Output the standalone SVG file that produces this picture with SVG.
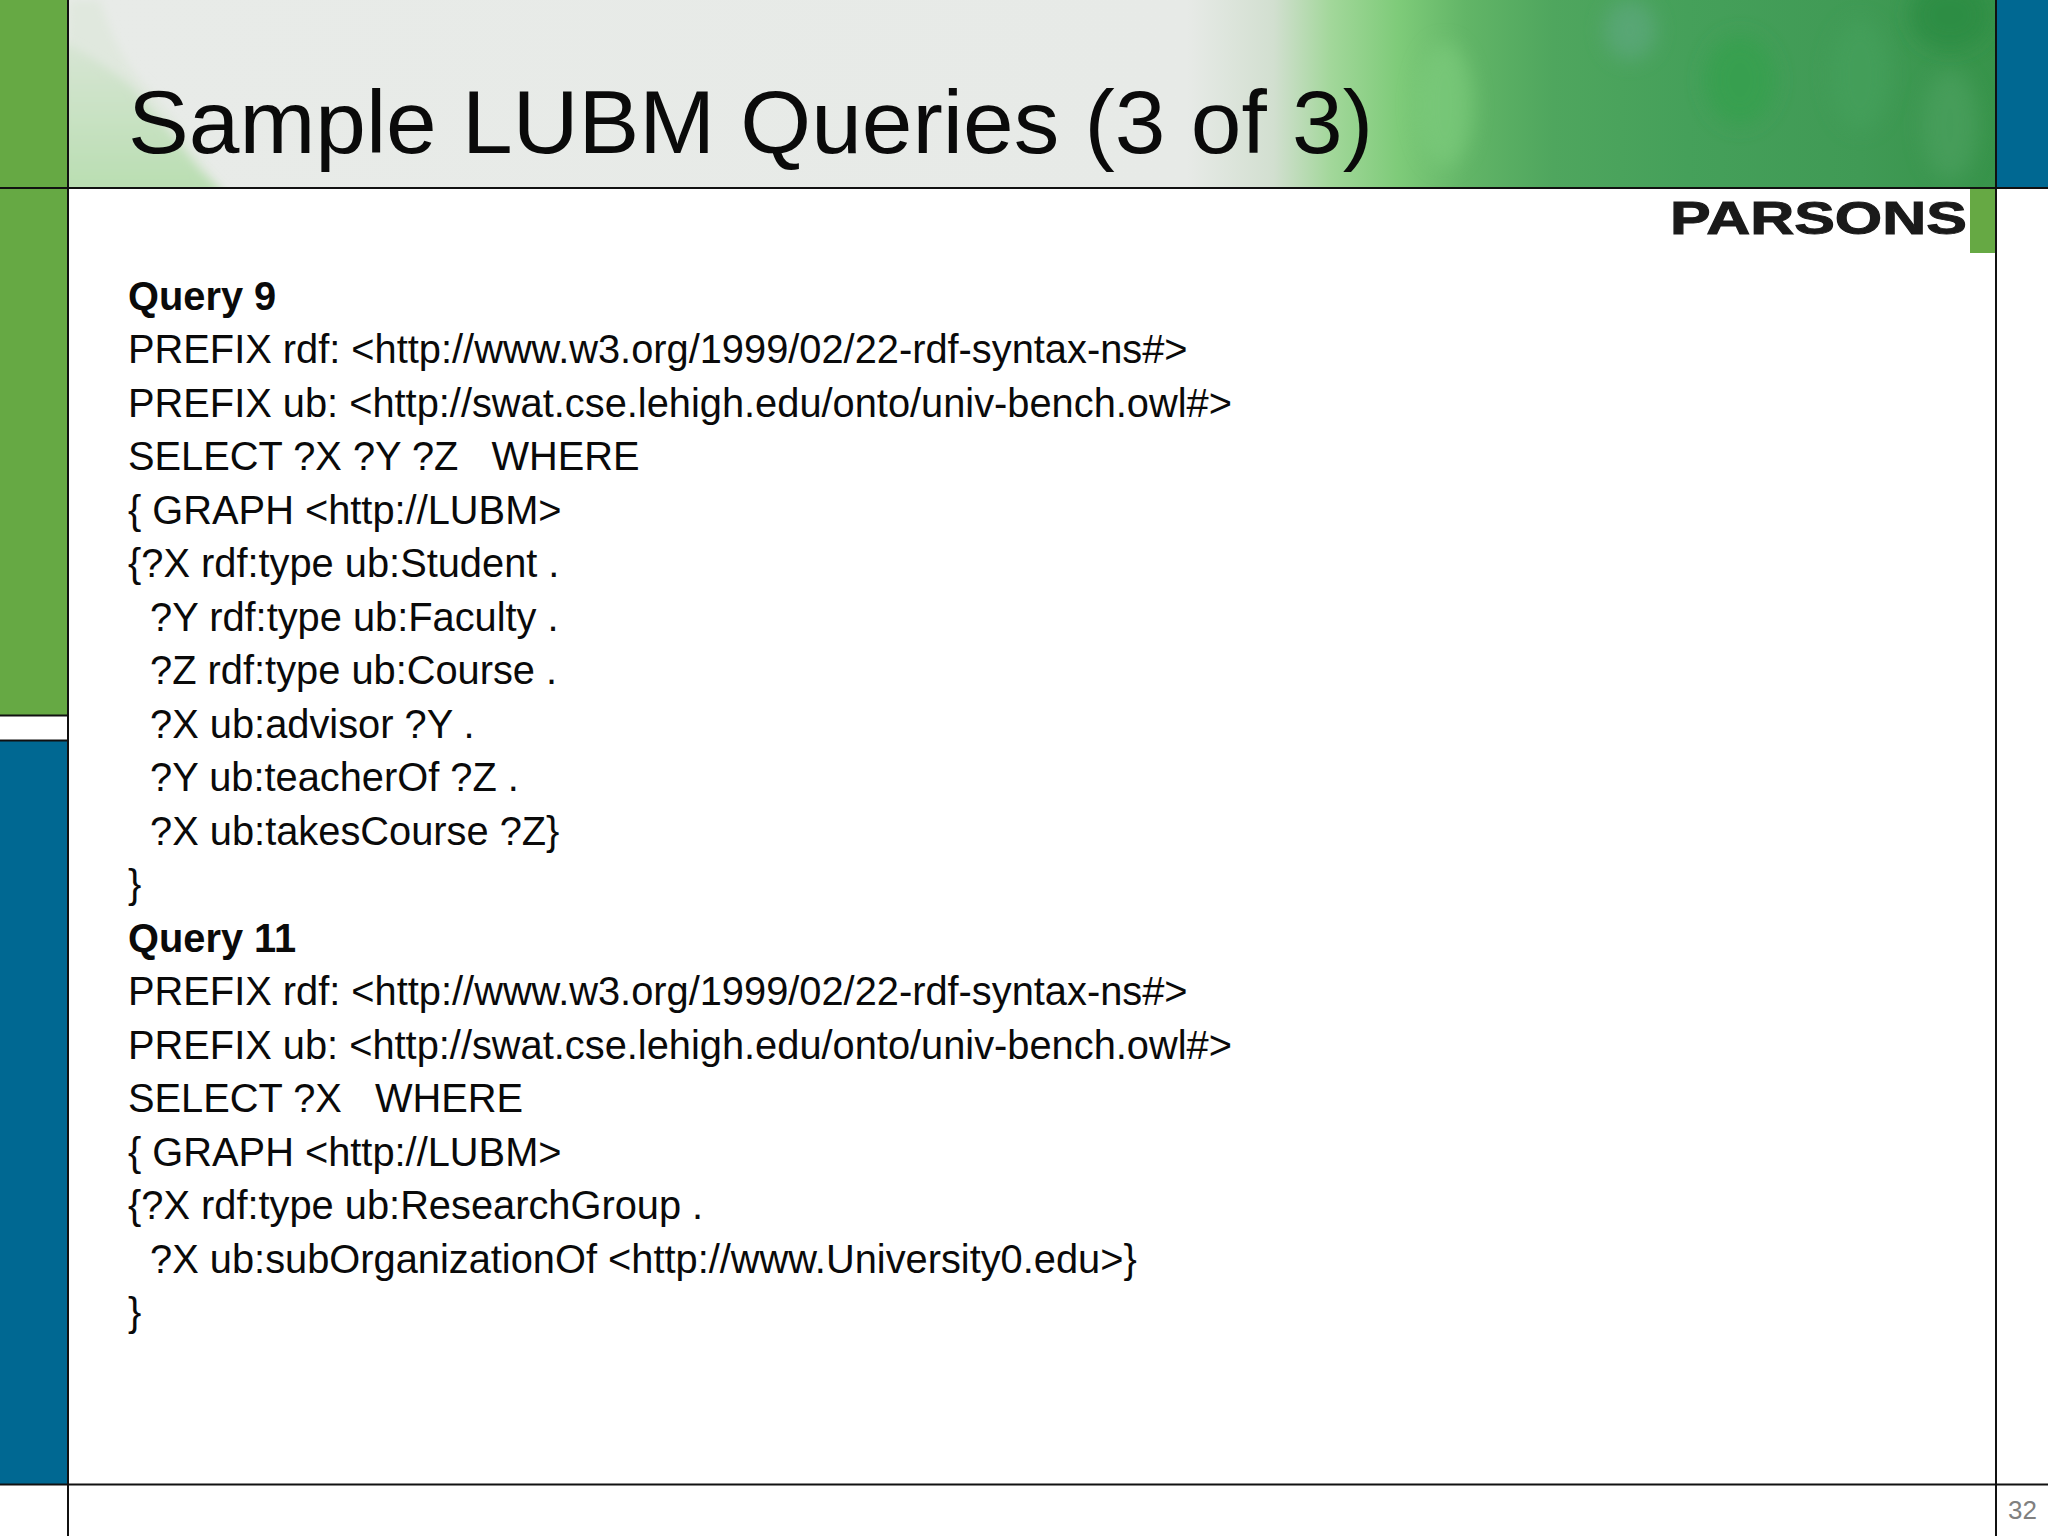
<svg xmlns="http://www.w3.org/2000/svg" width="2048" height="1536" viewBox="0 0 2048 1536">
<style>
text{font-family:"Liberation Sans",Arial,sans-serif;fill:#0a0a0a;white-space:pre}
.b{font-size:39.800px}
.q{font-size:39.800px;font-weight:bold}
.ln{stroke:#111;stroke-width:2;fill:none}
</style>
<defs>
<linearGradient id="hd" x1="0" x2="1" y1="0" y2="0">
<stop offset="0" stop-color="#e8ebe8"/>
<stop offset="0.58" stop-color="#e7eae7"/>
<stop offset="0.625" stop-color="#d2dfd0"/>
<stop offset="0.655" stop-color="#a2d79a"/>
<stop offset="0.69" stop-color="#7ecb79"/>
<stop offset="0.725" stop-color="#62b567"/>
<stop offset="0.77" stop-color="#4fa65e"/>
<stop offset="0.84" stop-color="#45a05a"/>
<stop offset="0.93" stop-color="#409a55"/>
<stop offset="1" stop-color="#37934a"/>
</linearGradient>
<linearGradient id="sw" x1="0" x2="0" y1="0" y2="1">
<stop offset="0" stop-color="#d8e5d5"/>
<stop offset="1" stop-color="#b8deb0"/>
</linearGradient>
<filter id="bl" x="-50%" y="-50%" width="200%" height="200%"><feGaussianBlur stdDeviation="10"/></filter>
<filter id="bl2" x="-50%" y="-50%" width="200%" height="200%"><feGaussianBlur stdDeviation="5"/></filter>
<clipPath id="hc"><rect x="69" y="0" width="1927" height="187"/></clipPath>
</defs>
<rect width="2048" height="1536" fill="#fff"/>
<g id="header">
<rect x="69" y="0" width="1927" height="187" fill="url(#hd)"/>
<g clip-path="url(#hc)">
<path d="M69 0 L100 0 Q115 50 140 80 Q180 120 225 195 L60 195Z" fill="#e0e8de" filter="url(#bl2)"/>
<path d="M60 40 Q100 60 130 85 Q165 125 200 170 L225 195 L60 195Z" fill="url(#sw)" filter="url(#bl2)"/>
<ellipse cx="1630" cy="30" rx="26" ry="30" fill="#5ba77a" opacity="0.8" filter="url(#bl)"/>
<ellipse cx="1445" cy="105" rx="28" ry="62" fill="#7ccb7c" opacity="0.7" filter="url(#bl)"/>
<ellipse cx="1740" cy="80" rx="35" ry="45" fill="#35a04e" opacity="0.8" filter="url(#bl)"/>
<ellipse cx="1950" cy="15" rx="40" ry="35" fill="#2b8c42" opacity="0.8" filter="url(#bl)"/>
<ellipse cx="1950" cy="125" rx="28" ry="55" fill="#4ba05e" opacity="0.7" filter="url(#bl)"/>
<ellipse cx="1860" cy="75" rx="30" ry="55" fill="#45a05c" opacity="0.7" filter="url(#bl)"/>
</g>
</g>
<g id="side-bars">
<rect x="0" y="0" width="68" height="715" fill="#66a944"/>
<rect x="0" y="741" width="68" height="743" fill="#006892"/>
<rect x="1996" y="0" width="52" height="187" fill="#006892"/>
<rect x="1970" y="188" width="26" height="65" fill="#66a944"/>
</g>
<g id="frame-lines" class="ln">
<path class="ln" d="M0 188H2048M0 715.500H68M0 740.500H68M68 0V1536M1996 0V1536M0 1484.500H2048"/>
</g>
<text id="logo" x="1670" y="234" font-size="46" font-weight="bold" textLength="297" lengthAdjust="spacingAndGlyphs" style="fill:#1a1a1a;stroke:#1a1a1a;stroke-width:1">PARSONS</text>
<text id="title" x="128" y="153" font-size="89" textLength="1245" lengthAdjust="spacingAndGlyphs">Sample LUBM Queries (3 of 3)</text>
<g id="body">
<text class="q" x="128" y="310">Query 9</text>
<text class="b" x="128" y="363">PREFIX rdf: &lt;http://www.w3.org/1999/02/22-rdf-syntax-ns#&gt;</text>
<text class="b" x="128" y="417">PREFIX ub: &lt;http://swat.cse.lehigh.edu/onto/univ-bench.owl#&gt;</text>
<text class="b" x="128" y="470">SELECT ?X ?Y ?Z   WHERE</text>
<text class="b" x="128" y="524">{ GRAPH &lt;http://LUBM&gt;</text>
<text class="b" x="128" y="577">{?X rdf:type ub:Student .</text>
<text class="b" x="128" y="631">  ?Y rdf:type ub:Faculty .</text>
<text class="b" x="128" y="684">  ?Z rdf:type ub:Course .</text>
<text class="b" x="128" y="738">  ?X ub:advisor ?Y .</text>
<text class="b" x="128" y="791">  ?Y ub:teacherOf ?Z .</text>
<text class="b" x="128" y="845">  ?X ub:takesCourse ?Z}</text>
<text class="b" x="128" y="898">}</text>
<text class="q" x="128" y="952">Query 11</text>
<text class="b" x="128" y="1005">PREFIX rdf: &lt;http://www.w3.org/1999/02/22-rdf-syntax-ns#&gt;</text>
<text class="b" x="128" y="1059">PREFIX ub: &lt;http://swat.cse.lehigh.edu/onto/univ-bench.owl#&gt;</text>
<text class="b" x="128" y="1112">SELECT ?X   WHERE</text>
<text class="b" x="128" y="1166">{ GRAPH &lt;http://LUBM&gt;</text>
<text class="b" x="128" y="1219">{?X rdf:type ub:ResearchGroup .</text>
<text class="b" x="128" y="1273">  ?X ub:subOrganizationOf &lt;http://www.University0.edu&gt;}</text>
<text class="b" x="128" y="1326">}</text>
</g>
<text id="page-number" x="2008" y="1519" font-size="26" style="fill:#808080">32</text>
</svg>
